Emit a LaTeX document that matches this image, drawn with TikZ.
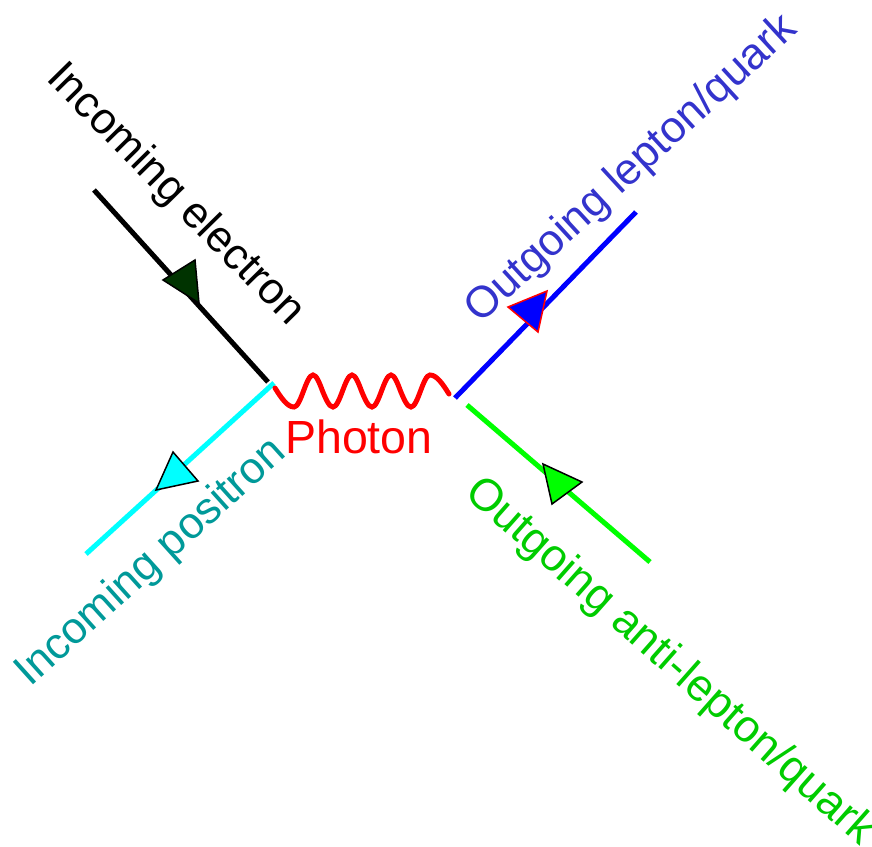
\documentclass[tikz,border=0pt]{standalone}
\usepackage{fontspec}
\setmainfont{Liberation Sans}
\usepackage{tikz}
\definecolor{darkgreen}{HTML}{003300}
\definecolor{poscyan}{HTML}{00FFFF}
\definecolor{posteal}{HTML}{009999}
\definecolor{leptonblue}{HTML}{3333CC}
\definecolor{antigreen}{HTML}{00CC00}
\definecolor{linegreen}{HTML}{00FF00}
\newcommand{\makehead}[5]{
	\filldraw[fill=#4, draw=#5, line width=1.5pt, line join=miter] (#1) -- (#2) -- (#3) -- cycle;
}

\begin{document}
\begin{tikzpicture}[x=1pt,y=-1pt,
	fermion/.style={line width=5pt},
	lbl/.style={font=\fontsize{44}{50}\selectfont, inner sep=0pt, anchor=base west}]
	\useasboundingbox (0,0) rectangle (872,846);
	\coordinate (E1) at (94,190);
	\coordinate (E2) at (268,382);
	\coordinate (P1) at (274,383);
	\coordinate (P2) at (86,554);
	\coordinate (L1) at (455,398);
	\coordinate (L2) at (636,212);
	\coordinate (A1) at (467,405);
	\coordinate (A2) at (650,562);

	\draw[fermion, black] (E1) -- (E2);
	\draw[fermion, poscyan] (P1) -- (P2);
	\draw[fermion, blue] (L1) -- (L2);
	\draw[fermion, linegreen] (A1) -- (A2);

	% photon
	\draw[fermion, red, line cap=round] (275,388) sin (294,407)
		\foreach \k in {0,1,2} {
			cos ({303.5+39*\k},391) sin ({313+39*\k},375)
			cos ({322.5+39*\k},391) sin ({333+39*\k},407)
		}
		cos (420.5,391) sin (430,375) cos (449,394);

	% arrow heads
	\coordinate (Ea) at (163,280);
	\coordinate (Eb) at (195,260);
	\coordinate (Ec) at (199,303);
	\coordinate (Pa) at (173,452);
	\coordinate (Pb) at (198,481);
	\coordinate (Pc) at (156,490);
	\coordinate (La) at (547,291);
	\coordinate (Lb) at (538,332);
	\coordinate (Lc) at (508,307);
	\coordinate (Aa) at (543,464);
	\coordinate (Ab) at (582,482);
	\coordinate (Ac) at (552,504);
	\makehead{Ea}{Eb}{Ec}{darkgreen}{black}
	\makehead{Pa}{Pb}{Pc}{poscyan}{black}
	\makehead{La}{Lb}{Lc}{blue}{red}
	\makehead{Aa}{Ab}{Ac}{linegreen}{black}

	% labels
	\node[lbl, rotate=-45.5] (electron) at (45,79) {Incoming electron};
	\node[lbl, rotate=42, text=posteal] (positron) at (30,688) {Incoming positron};
	\node[lbl, rotate=42.6, text=leptonblue] (lepton) at (480,325) {Outgoing lepton/quark};
	\node[lbl, rotate=-41.5, text=antigreen, font=\fontsize{45}{50}\selectfont] (antilepton) at (463,495) {Outgoing anti-lepton/quark};
	\node[lbl, text=red, font=\fontsize{46.5}{52}\selectfont] (photon) at (285,453) {Photon};
\end{tikzpicture}
\end{document}
